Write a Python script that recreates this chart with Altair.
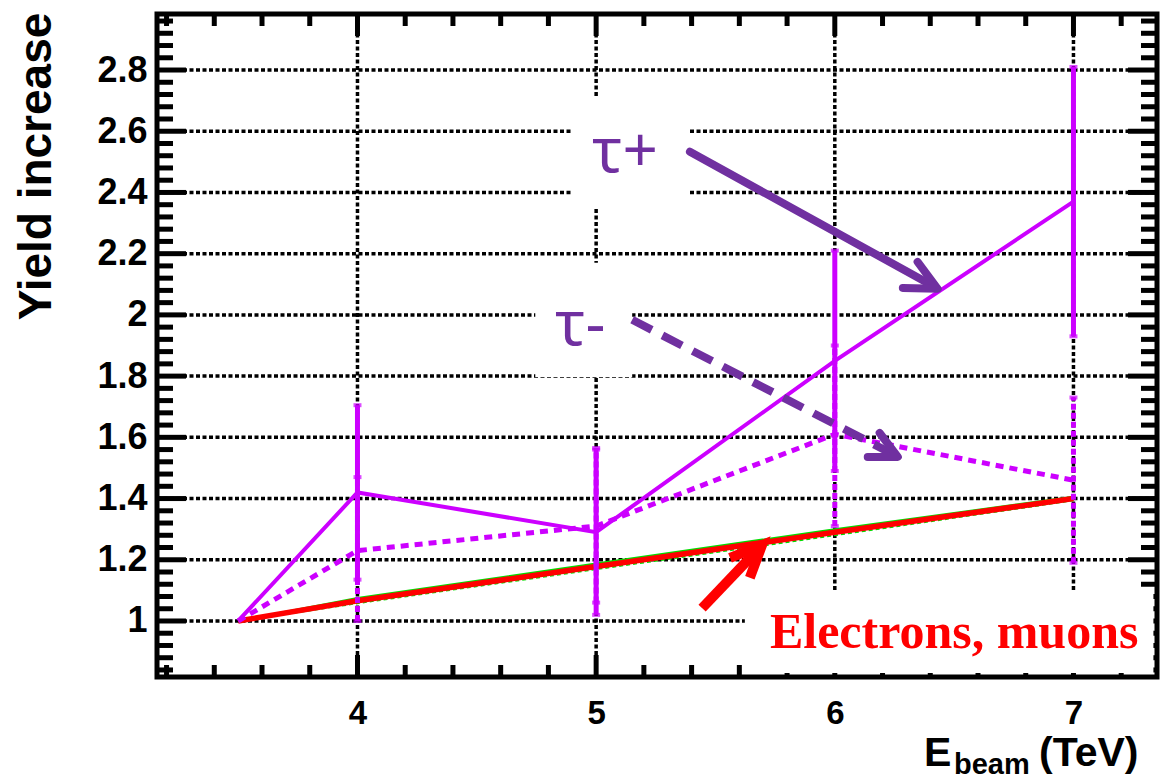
import altair as alt
import pandas as pd

# ---------------- data ----------------
energy = [3.5, 4, 5, 6, 7]
tau_plus = [1.0, 1.42, 1.29, 1.85, 2.37]
tau_minus = [1.0, 1.23, 1.31, 1.61, 1.46]
lep_red = [1.0, 1.066, 1.178, 1.29, 1.40]
lep_green = [1.0, 1.074, 1.187, 1.299, 1.405]
lep_green_dash = [1.0, 1.059, 1.170, 1.281, 1.395]

err_x = [4, 5, 6, 7]
tau_plus_lo = [1.135, 1.02, 1.49, 1.93]
tau_plus_hi = [1.705, 1.565, 2.21, 2.81]
tau_minus_lo = [1.0, 1.06, 1.31, 1.19]
tau_minus_hi = [1.47, 1.56, 1.90, 1.73]

x_major = [4, 5, 6, 7]
x_minor = [3.2, 3.4, 3.6, 3.8, 4.2, 4.4, 4.6, 4.8, 5.2, 5.4, 5.6, 5.8,
           6.2, 6.4, 6.6, 6.8, 7.2]
y_major = [1.0, 1.2, 1.4, 1.6, 1.8, 2.0, 2.2, 2.4, 2.6, 2.8]
y_minor = [round(0.8 + 0.04 * i, 2) for i in range(1, 55) if i % 5 != 0]

# annotations (data coordinates)
ann_text = ["τ+", "τ-"]
ann_x = [4.983, 4.828]
ann_y = [2.467, 1.902]
lab_text = ["Electrons, muons"]
lab_x = [5.728]
lab_y = [0.912]

# white boxes behind the labels
box_x1 = [4.90, 4.745, 5.623]
box_x2 = [5.393, 5.151, 7.335]
box_y1 = [2.35, 1.797, 0.83]
box_y2 = [2.712, 2.17, 1.095]

# arrows: (x, y) polylines
arr_plus_x = [5.393, 6.418]
arr_plus_y = [2.533, 2.092]
head_plus_x = [6.347, 6.431, 6.285]
head_plus_y = [2.173, 2.085, 2.088]
arr_minus_x = [5.151, 6.251]
arr_minus_y = [1.984, 1.542]
head_minus_x = [6.188, 6.264, 6.138]
head_minus_y = [1.614, 1.536, 1.536]
arr_red_x = [5.444, 5.68]
arr_red_y = [1.042, 1.235]
head_red_x = [5.561, 5.695, 5.644]
head_red_y = [1.206, 1.248, 1.141]

# ---------------- layout ----------------
W, H = 1000, 663
XS = alt.Scale(domain=[3.16, 7.35], nice=False, zero=False)
YS = alt.Scale(domain=[0.817, 2.983], nice=False, zero=False)
FONT = "Liberation Sans"
PURPLE = "#7030A0"
MAG = "#CC00FF"

AX_Y = alt.Axis(values=y_major, format=".1~f", ticks=False, domain=False,
                grid=False, labelFont=FONT, labelFontWeight="bold",
                labelFontSize=36, labelColor="black", labelPadding=10,
                title="Yield increase", titleFont=FONT, titleFontSize=46,
                titleFontWeight="bold", titleColor="black", titleAngle=-90,
                titleAlign="center", titleBaseline="middle",
                titleX=-121, titleY=152)
AX_X = alt.Axis(values=x_major, format="d", ticks=False, domain=False,
                grid=False, labelFont=FONT, labelFontWeight="bold",
                labelFontSize=33, labelColor="black", labelPadding=20,
                title=None)


def X(f):
    return alt.X(f, type="quantitative", scale=XS, axis=AX_X)


def Y(f):
    return alt.Y(f, type="quantitative", scale=YS, axis=AX_Y)


grid_style = dict(color="black", strokeWidth=3.5, strokeDash=[4, 2.5])

hgrid = alt.Chart(pd.DataFrame({"y": y_major})).mark_rule(**grid_style).encode(
    y=Y("y"), x=alt.value(0), x2=alt.value(W))
vgrid = alt.Chart(pd.DataFrame({"x": x_major})).mark_rule(**grid_style).encode(
    x=X("x"), y=alt.value(0), y2=alt.value(H))

tick_style = dict(color="black", strokeWidth=5)
dy_major = pd.DataFrame({"v": y_major})
dy_minor = pd.DataFrame({"v": y_minor})
dx_major = pd.DataFrame({"v": x_major})
dx_minor = pd.DataFrame({"v": x_minor})

ticks = [
    alt.Chart(dy_major).mark_rule(**tick_style).encode(y=Y("v"), x=alt.value(0), x2=alt.value(29)),
    alt.Chart(dy_major).mark_rule(**tick_style).encode(y=Y("v"), x=alt.value(W - 29), x2=alt.value(W)),
    alt.Chart(dy_minor).mark_rule(**tick_style).encode(y=Y("v"), x=alt.value(0), x2=alt.value(16)),
    alt.Chart(dy_minor).mark_rule(**tick_style).encode(y=Y("v"), x=alt.value(W - 16), x2=alt.value(W)),
    alt.Chart(dx_major).mark_rule(**tick_style).encode(x=X("v"), y=alt.value(0), y2=alt.value(22)),
    alt.Chart(dx_major).mark_rule(**tick_style).encode(x=X("v"), y=alt.value(H - 22), y2=alt.value(H)),
    alt.Chart(dx_minor).mark_rule(**tick_style).encode(x=X("v"), y=alt.value(0), y2=alt.value(12)),
    alt.Chart(dx_minor).mark_rule(**tick_style).encode(x=X("v"), y=alt.value(H - 12), y2=alt.value(H)),
]

boxes = alt.Chart(pd.DataFrame({"x1": box_x1, "x2": box_x2, "y1": box_y1, "y2": box_y2})).mark_rect(
    color="white").encode(x=X("x1"), x2="x2", y=Y("y1"), y2="y2")

curves = pd.DataFrame({"e": energy, "tp": tau_plus, "tm": tau_minus,
                       "r": lep_red, "g": lep_green, "gd": lep_green_dash})

l_green = alt.Chart(curves).mark_line(color="#00DD00", strokeWidth=2.5).encode(x=X("e"), y=Y("g"))
l_green_d = alt.Chart(curves).mark_line(color="#00DD00", strokeWidth=2.5, strokeDash=[4, 3]).encode(x=X("e"), y=Y("gd"))
l_red = alt.Chart(curves).mark_line(color="#FF0000", strokeWidth=5.5).encode(x=X("e"), y=Y("r"))
l_tm = alt.Chart(curves).mark_line(color=MAG, strokeWidth=5, strokeDash=[8, 6]).encode(x=X("e"), y=Y("tm"))
l_tp = alt.Chart(curves).mark_line(color=MAG, strokeWidth=4).encode(x=X("e"), y=Y("tp"))

errs = pd.DataFrame({"x": err_x, "plo": tau_plus_lo, "phi": tau_plus_hi,
                     "mlo": tau_minus_lo, "mhi": tau_minus_hi})
e_minus = alt.Chart(errs).mark_rule(color=MAG, strokeWidth=5, strokeDash=[6, 3]).encode(
    x=X("x"), y=Y("mlo"), y2="mhi")
e_plus = alt.Chart(errs).mark_rule(color=MAG, strokeWidth=5).encode(
    x=X("x"), y=Y("plo"), y2="phi")
cap_df = pd.DataFrame({"x": err_x * 4,
                       "y": tau_plus_lo + tau_plus_hi + tau_minus_lo + tau_minus_hi})
caps = alt.Chart(cap_df).mark_tick(color=MAG, orient="horizontal", size=8, thickness=4).encode(
    x=X("x"), y=Y("y"))


def poly(xs, ys, **kw):
    df = pd.DataFrame({"x": xs, "y": ys, "o": list(range(len(xs)))})
    return alt.Chart(df).mark_line(**kw).encode(x=X("x"), y=Y("y"), order="o:Q")


arrows = [
    poly(arr_plus_x, arr_plus_y, color=PURPLE, strokeWidth=8, strokeCap="round"),
    poly(head_plus_x, head_plus_y, color=PURPLE, strokeWidth=8, strokeCap="round", strokeJoin="round"),
    poly(arr_minus_x, arr_minus_y, color=PURPLE, strokeWidth=8, strokeDash=[22, 12]),
    poly(head_minus_x, head_minus_y, color=PURPLE, strokeWidth=8, strokeCap="round", strokeJoin="round"),
    poly(arr_red_x, arr_red_y, color="#FF0000", strokeWidth=10),
    poly(head_red_x, head_red_y, color="#FF0000", strokeWidth=10, strokeJoin="miter"),
]

tau_txt = alt.Chart(pd.DataFrame({"x": ann_x, "y": ann_y, "t": ann_text})).mark_text(
    font="Noto Sans", fontSize=62, color=PURPLE, align="left", baseline="alphabetic").encode(
    x=X("x"), y=Y("y"), text="t:N")
lep_txt = alt.Chart(pd.DataFrame({"x": lab_x, "y": lab_y, "t": lab_text})).mark_text(
    font="Liberation Serif", fontSize=50, fontWeight="bold", color="#FF0000",
    align="left", baseline="alphabetic").encode(
    x=X("x"), y=Y("y"), text="t:N")

one = pd.DataFrame({"a": [0]})
frame = alt.Chart(one).mark_rect(fillOpacity=0, stroke="black", strokeWidth=5).encode(
    x=alt.value(0), x2=alt.value(W), y=alt.value(0), y2=alt.value(H))

xt_E = alt.Chart(one).mark_text(text="E", font=FONT, fontWeight="bold", fontSize=41,
                                align="left", baseline="alphabetic", color="black").encode(
    x=alt.value(767), y=alt.value(752))
xt_b = alt.Chart(one).mark_text(text="beam", font=FONT, fontWeight="bold", fontSize=29,
                                align="left", baseline="alphabetic", color="black").encode(
    x=alt.value(797), y=alt.value(760))
xt_T = alt.Chart(one).mark_text(text="(TeV)", font=FONT, fontWeight="bold", fontSize=41,
                                align="left", baseline="alphabetic", color="black").encode(
    x=alt.value(882), y=alt.value(752))

chart = alt.layer(
    hgrid, vgrid, *ticks, boxes,
    l_green, l_green_d, l_red, l_tm, l_tp,
    e_minus, e_plus, caps,
    *arrows, tau_txt, lep_txt, frame, xt_E, xt_b, xt_T,
).properties(
    width=W, height=H,
    autosize=alt.AutoSizeParams(type="none"),
    padding={"left": 157, "top": 14, "right": 11, "bottom": 104},
    background="white",
).configure_view(stroke=None)

chart.save("out.html", embed_options={"renderer": "svg", "actions": False})
